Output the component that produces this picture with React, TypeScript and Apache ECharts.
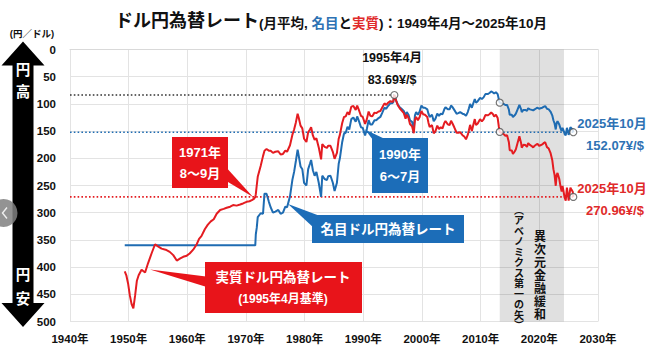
import React, { useEffect, useRef } from "react";
import * as echarts from "echarts";

// ---- data ----
const pegYears = [1949.33, 1971.58];
const pegValues = [360, 360];

const earlyRealYears = [
  1949.33, 1949.6, 1949.9, 1950.2, 1950.5, 1950.8, 1951.1, 1951.4, 1951.7, 1952.2,
  1952.8, 1953.3, 1953.9, 1954.5, 1955.0, 1955.6, 1956.3, 1957.0, 1957.6, 1958.2,
  1958.8, 1959.3, 1959.9, 1960.4, 1961.0, 1961.6, 1962.0, 1962.4, 1963.0, 1963.5,
  1964.0, 1964.5, 1965.0, 1965.6, 1966.2, 1966.7, 1967.3, 1967.8, 1968.4, 1969.0,
  1969.5, 1970.1, 1970.6, 1971.0, 1971.4, 1971.58,
];
const earlyRealValues = [
  408, 415, 430, 452, 468, 476, 452, 425, 415, 405,
  410, 393, 375, 358, 362, 366, 368, 372, 378, 388,
  384, 381, 379, 375, 368, 358, 348, 343, 330, 322,
  316, 312, 302, 295, 293, 291, 289, 286, 287, 285,
  283, 280, 279, 277, 274, 271,
];

const floatYears = [
  1971.67, 1971.83, 1972.0, 1972.5, 1972.9, 1973.15, 1973.5, 1973.9, 1974.2, 1974.6,
  1975.0, 1975.5, 1975.9, 1976.3, 1976.7, 1977.0, 1977.5, 1977.9, 1978.2, 1978.5,
  1978.8, 1979.0, 1979.3, 1979.6, 1979.9, 1980.3, 1980.6, 1980.9, 1981.1, 1981.4,
  1981.7, 1982.0, 1982.4, 1982.8, 1983.0, 1983.4, 1983.8, 1984.0, 1984.4, 1984.8,
  1985.1, 1985.5, 1985.8, 1986.0, 1986.4, 1986.7, 1987.0, 1987.3, 1987.6, 1987.95,
  1988.3, 1988.7, 1988.95, 1989.3, 1989.6, 1989.9, 1990.3, 1990.6, 1990.9, 1991.2,
  1991.5, 1991.9, 1992.2, 1992.6, 1992.9, 1993.2, 1993.6, 1993.9, 1994.2, 1994.6,
  1994.9, 1995.1, 1995.29, 1995.6, 1995.9, 1996.2, 1996.5, 1996.9, 1997.2, 1997.4,
  1997.7, 1997.95, 1998.3, 1998.6, 1998.8, 1999.0, 1999.3, 1999.6, 1999.9, 2000.2,
  2000.5, 2000.9, 2001.1, 2001.3, 2001.7, 2002.0, 2002.3, 2002.6, 2002.9, 2003.2,
  2003.5, 2003.8, 2004.0, 2004.4, 2004.7, 2004.95, 2005.2, 2005.5, 2005.9, 2006.2,
  2006.5, 2006.9, 2007.2, 2007.5, 2007.8, 2008.0, 2008.2, 2008.5, 2008.8, 2009.0,
  2009.2, 2009.5, 2009.9, 2010.2, 2010.5, 2010.8, 2011.2, 2011.5, 2011.8, 2012.1,
  2012.3, 2012.6, 2012.9, 2013.1, 2013.25, 2013.6, 2013.9, 2014.2, 2014.5, 2014.8,
  2014.95, 2015.3, 2015.5, 2015.8, 2016.0, 2016.3, 2016.6, 2016.9, 2017.0, 2017.3,
  2017.6, 2017.9, 2018.1, 2018.4, 2018.7, 2018.95, 2019.2, 2019.5, 2019.7, 2019.95,
  2020.2, 2020.5, 2020.8, 2021.0, 2021.3, 2021.6, 2021.9, 2022.2, 2022.4, 2022.6,
  2022.8, 2022.95, 2023.1, 2023.4, 2023.6, 2023.8, 2023.95, 2024.1, 2024.3, 2024.5,
  2024.7, 2024.9, 2025.0, 2025.3, 2025.5, 2025.7, 2025.79,
];
const nominalFloat = [
  340, 328, 308, 301, 302, 265, 265, 280, 290, 300,
  298, 295, 302, 300, 289, 290, 270, 240, 225, 205,
  184, 196, 215, 220, 245, 250, 220, 210, 203, 222,
  232, 225, 245, 271, 232, 238, 240, 233, 232, 245,
  260, 245, 210, 200, 170, 155, 153, 142, 147, 128,
  125, 133, 123, 133, 143, 144, 158, 146, 130, 138,
  138, 130, 130, 126, 124, 117, 107, 109, 104, 99,
  99, 97, 83.69, 94, 102, 106, 109, 113, 122, 115,
  120, 130, 133, 145, 121, 115, 120, 114, 103, 107,
  107, 110, 118, 124, 120, 132, 127, 118, 122, 118,
  119, 110, 106, 110, 110, 103, 106, 111, 118, 117,
  115, 118, 119, 122, 115, 108, 100, 107, 97, 91,
  98, 95, 89, 91, 88, 82, 82, 80, 77, 79,
  81, 78.5, 82, 92, 97.7, 99, 100, 102, 102, 110,
  120, 120, 124, 121, 118, 110, 102, 110, 115, 111,
  111, 113, 108, 110, 111, 112, 110, 108, 107, 109,
  108, 107, 105, 104, 109, 110, 114, 121, 130, 136,
  147, 135, 132, 138, 145, 150, 144, 148, 155, 158,
  144, 152, 157, 143, 145, 147, 152.07,
];
const realFloat = [
  266, 250, 234, 214, 196, 186, 183, 186, 186, 190,
  188, 187, 193, 192, 186, 188, 176, 157, 147, 134,
  118, 126, 140, 145, 164, 170, 152, 147, 143, 158,
  166, 163, 180, 202, 174, 179, 181, 177, 177, 188,
  201, 190, 164, 157, 135, 124, 123, 115, 120, 105,
  104, 111, 103, 113, 122, 124, 137, 128, 114, 122,
  123, 116, 117, 114, 113, 107, 99, 102, 98, 95,
  96, 95.5, 83.69, 94.5, 103, 108, 112, 117, 127, 120,
  126, 137, 141, 154, 129.5, 124, 130, 124, 113, 119,
  120, 124, 134.5, 142.5, 139, 154, 150, 140, 146, 143,
  145, 135, 131.5, 137.5, 139, 131, 136, 143, 153, 153,
  152, 157.5, 160, 165, 157, 148.5, 138.5, 150, 136, 128,
  139, 136, 128, 132, 128.5, 120.5, 121, 119, 115.5, 119,
  123, 120, 126, 142, 151.5, 153.5, 155.5, 158.5, 157.5, 170,
  185, 185.5, 192, 187.5, 183.5, 171.5, 159.5, 172.5, 180.5, 175,
  175.5, 179, 172, 175.5, 177.5, 180, 177, 174.5, 173.5, 177,
  176, 174.5, 171.5, 170.5, 179.5, 182, 190, 203, 220, 231,
  250.5, 231, 227, 238, 251, 261, 251, 259, 272, 278,
  254, 269, 278, 254, 258, 261.5, 270.96,
];

const markerYears = [1995.29, 2013.25, 2013.25, 2025.79, 2025.79];
const markerValues = [83.69, 97.7, 151.5, 152.07, 270.96];

const refLineEnds = [1995.29, 2025.79, 2025.79];
const refLineValues = [83.69, 152.07, 270.96];

const shadeRange = [2013.25, 2024.2];

const xTicks = { min: 1940, max: 2030, interval: 10 };
const yTicks = { min: 0, max: 500, interval: 50 };

// ---- styles ----
const FONT = "'Liberation Sans', Arial, 'Noto Sans CJK JP', sans-serif";
const BLUE = "#1f6cb2";
const RED = "#e41c21";
const BOX_BLUE = "#1c6db8";
const BOX_RED = "#e8141a";
const LBL_BLUE = "#2e72b4";
const LBL_RED = "#e02a2a";

const zip = (a: number[], b: number[]) => a.map((x, i) => [x, b[i]]);

function txt(x: number, y: number, text: string, size: number, fill: string, extra: any = {}) {
  return {
    type: "text",
    x,
    y,
    z: 120,
    silent: true,
    style: {
      text,
      fill,
      fontSize: size,
      fontWeight: "bold",
      fontFamily: FONT,
      align: "center",
      verticalAlign: "middle",
      ...extra,
    },
  };
}
function poly(points: number[][], fill: string) {
  return { type: "polygon", z: 110, silent: true, shape: { points }, style: { fill } };
}
function box(x: number, y: number, w: number, h: number, fill: string) {
  return { type: "rect", z: 110, silent: true, shape: { x, y, width: w, height: h }, style: { fill } };
}

export default function App() {
  const ref = useRef<HTMLDivElement>(null);

  useEffect(() => {
    if (!ref.current) return;
    const chart = echarts.init(ref.current, null, { renderer: "svg" });

    const nominalData = zip(pegYears, pegValues).concat(zip(floatYears, nominalFloat));
    const realData = zip(earlyRealYears, earlyRealValues).concat(zip(floatYears, realFloat));
    const refColors = ["#333333", BLUE, RED];

    const refSeries = refLineValues.map((v, i) => ({
      type: "line",
      silent: true,
      symbol: "none",
      z: 4,
      data: [
        [xTicks.min, v],
        [refLineEnds[i], v],
      ],
      lineStyle: { color: refColors[i], width: 1.6, type: [1.6, 2.2] },
    }));

    const graphic: any[] = [
      // left double arrow
      poly(
        [
          [23, 41.5], [1.5, 65.5], [12.5, 65.5], [12.5, 303], [1.5, 303],
          [23, 327], [44.5, 303], [33.5, 303], [33.5, 65.5], [44.5, 65.5],
        ],
        "#000"
      ),
      txt(23, 69.5, "円", 14.5, "#fff"),
      txt(23, 92, "高", 14.5, "#fff"),
      txt(23, 275, "円", 14.5, "#fff"),
      txt(23, 298.5, "安", 14.5, "#fff"),
      txt(32, 33, "(円／ドル)", 9.5, "#111"),
      // carousel button overlay
      { type: "circle", z: 130, silent: true, shape: { cx: 3.5, cy: 213, r: 14 }, style: { fill: "rgba(128,128,128,0.85)" } },
      {
        type: "polyline", z: 131, silent: true,
        shape: { points: [[7, 207.5], [2.5, 213], [7, 218.5]] },
        style: { stroke: "#eee", lineWidth: 1.4, fill: "none" },
      },
      // 1995年4月 annotation
      txt(392, 58, "1995年4月", 12.5, "#111"),
      txt(392, 79.5, "83.69¥/$", 12.5, "#111"),
      // right end labels
      txt(612, 123, "2025年10月", 13, LBL_BLUE),
      txt(615, 145, "152.07¥/$", 13, LBL_BLUE),
      txt(612, 188, "2025年10月", 13, LBL_RED),
      txt(615, 210, "270.96¥/$", 13, LBL_RED),
      // 1971 callout
      poly([[224, 165], [228, 182], [253, 197]], BOX_RED),
      box(172, 137, 56, 51, BOX_RED),
      txt(200, 152, "1971年", 13, "#fff"),
      txt(200, 173.5, "8〜9月", 13, "#fff"),
      // 1990 callout
      poly([[365, 129.5], [373, 140], [387, 140]], BOX_BLUE),
      box(372, 138, 56, 55, BOX_BLUE),
      txt(400, 154, "1990年", 13, "#fff"),
      txt(400, 176, "6〜7月", 13, "#fff"),
      // nominal callout
      poly([[288, 204], [320, 216], [314, 228]], BOX_BLUE),
      box(312, 215, 152, 28, BOX_BLUE),
      txt(388, 229.5, "名目ドル円為替レート", 13.5, "#fff"),
      // real callout
      poly([[150, 269.5], [210, 277], [210, 288]], BOX_RED),
      box(205, 262, 157, 51, BOX_RED),
      txt(283, 277, "実質ドル円為替レート", 13.5, "#fff"),
      txt(283, 299, "(1995年4月基準)", 12, "#fff"),
      // vertical texts in shaded zone
      txt(519, 205, "︵アベノミクス第一の矢︶".split("").join("\n"), 10, "#111", {
        verticalAlign: "top",
        lineHeight: 10.5,
      }),
      txt(540, 230, "異次元金融緩和".split("").join("\n"), 12, "#111", {
        verticalAlign: "top",
        lineHeight: 13,
      }),
    ];

    const option: any = {
      animation: false,
      backgroundColor: "#fff",
      title: {
        left: 110,
        top: 7,
        text: "{a|ドル円為替レート}{b|(月平均, }{c|名目}{b|と}{d|実質}{b|)：1949年4月～2025年10月}",
        textStyle: {
          rich: {
            a: { fontSize: 18, fontWeight: "bold", color: "#111", fontFamily: FONT, verticalAlign: "bottom" },
            b: { fontSize: 13.5, fontWeight: "bold", color: "#111", fontFamily: FONT, verticalAlign: "bottom" },
            c: { fontSize: 13.5, fontWeight: "bold", color: LBL_BLUE, fontFamily: FONT, verticalAlign: "bottom" },
            d: { fontSize: 13.5, fontWeight: "bold", color: LBL_RED, fontFamily: FONT, verticalAlign: "bottom" },
          },
        },
      },
      grid: { left: 70, right: 52, top: 49.5, bottom: 33.5 },
      xAxis: {
        type: "value",
        min: xTicks.min,
        max: xTicks.max,
        interval: xTicks.interval,
        axisLine: { show: true, lineStyle: { color: "#d9d9d9" } },
        axisTick: { show: false },
        axisLabel: {
          formatter: (v: number) => `${v}年`,
          fontSize: 11.5,
          fontWeight: "bold",
          color: "#111",
          fontFamily: FONT,
          margin: 12,
        },
        splitLine: { show: true, lineStyle: { color: "#e3e3e3", width: 1 } },
      },
      yAxis: {
        type: "value",
        inverse: true,
        min: yTicks.min,
        max: yTicks.max,
        interval: yTicks.interval,
        axisLine: { show: false },
        axisTick: { show: false },
        axisLabel: {
          fontSize: 11.5,
          fontWeight: "bold",
          color: "#111",
          fontFamily: FONT,
          margin: 14,
        },
        splitLine: { show: true, lineStyle: { color: "#e3e3e3", width: 1 } },
      },
      series: [
        {
          type: "line",
          name: "shade",
          silent: true,
          symbol: "none",
          data: [],
          markArea: {
            silent: true,
            itemStyle: { color: "rgba(0,0,0,0.12)" },
            data: [[{ xAxis: shadeRange[0] }, { xAxis: shadeRange[1] }]],
          },
        },
        ...refSeries,
        {
          type: "line",
          name: "名目",
          symbol: "none",
          z: 5,
          data: nominalData,
          lineStyle: { color: BLUE, width: 2 },
        },
        {
          type: "line",
          name: "実質",
          symbol: "none",
          z: 6,
          data: realData,
          lineStyle: { color: RED, width: 2 },
        },
        {
          type: "scatter",
          z: 8,
          silent: true,
          symbol: "circle",
          symbolSize: 7,
          data: zip(markerYears, markerValues),
          itemStyle: { color: "#fff", borderColor: "#555", borderWidth: 1.2 },
        },
      ],
      graphic,
    };

    chart.setOption(option);
    return () => chart.dispose();
  }, []);

  return (
    <div
      ref={ref}
      style={{ position: "absolute", left: 0, top: 0, width: 650, height: 355, background: "#fff" }}
    />
  );
}
